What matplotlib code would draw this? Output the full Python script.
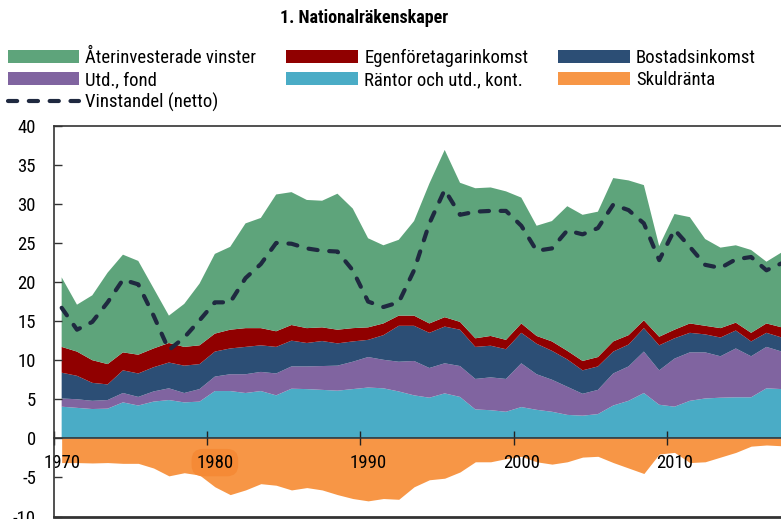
import numpy as np
import matplotlib
matplotlib.use("Agg")
import matplotlib.pyplot as plt
from matplotlib.patches import Patch
from matplotlib.lines import Line2D

plt.rcParams['font.family'] = ['Roboto Condensed', 'DejaVu Sans']
plt.rcParams['axes.unicode_minus'] = False

years = np.arange(1970, 2018)

# stacked components, bottom to top
rantor = [4.05, 3.9, 3.75, 3.8, 4.6, 4.2, 4.7, 4.9, 4.6, 4.7,
          6.05, 6.05, 5.8, 6.05, 5.5, 6.35, 6.3, 6.2, 6.1, 6.3,
          6.5, 6.4, 6.0, 5.5, 5.2, 5.75, 5.3, 3.7, 3.6, 3.4,
          4.0, 3.65, 3.4, 3.0, 2.9, 3.1, 4.2, 4.8, 5.8, 4.3,
          4.05, 4.8, 5.1, 5.2, 5.25, 5.25, 6.4, 6.3]
utd_fond = [1.05, 1.1, 1.05, 1.1, 1.2, 1.1, 1.3, 1.5, 1.2, 1.6,
            1.85, 2.15, 2.4, 2.45, 2.8, 2.85, 2.9, 3.05, 3.2, 3.5,
            3.9, 3.65, 3.8, 4.4, 3.8, 3.85, 3.95, 3.9, 4.2, 4.2,
            5.6, 4.55, 4.1, 3.6, 2.8, 3.1, 4.1, 4.4, 5.3, 4.4,
            6.15, 6.2, 5.9, 5.3, 6.25, 5.25, 5.3, 4.8]
bostad = [3.3, 3.0, 2.3, 2.0, 2.9, 3.0, 3.1, 3.3, 3.5, 3.2,
          3.2, 3.3, 3.5, 3.4, 3.4, 3.3, 3.0, 3.2, 2.85, 2.6,
          2.2, 3.15, 4.6, 4.5, 4.5, 4.7, 4.65, 4.1, 4.05, 3.8,
          3.9, 3.9, 3.7, 3.5, 3.0, 3.0, 2.8, 2.8, 3.0, 3.2,
          2.6, 2.5, 2.3, 2.4, 2.3, 1.9, 1.8, 1.8]
egenfor = [3.3, 3.1, 2.9, 2.6, 2.3, 2.4, 2.4, 2.5, 2.4, 2.4,
           2.3, 2.4, 2.4, 2.2, 2.0, 2.0, 1.9, 1.75, 1.75, 1.7,
           1.6, 1.5, 1.3, 1.3, 1.2, 1.2, 1.0, 1.1, 1.25, 1.2,
           1.2, 1.0, 1.2, 1.1, 1.2, 1.2, 1.3, 1.2, 1.0, 1.1,
           1.1, 1.2, 1.1, 1.2, 1.0, 1.1, 1.2, 1.3]
aterinv = [8.9, 6.0, 8.3, 11.7, 12.5, 12.0, 7.7, 3.5, 5.5, 7.9,
           10.2, 10.6, 13.4, 14.1, 17.5, 17.0, 16.4, 16.2, 17.4, 15.3,
           11.4, 10.0, 9.7, 12.1, 17.9, 21.4, 17.8, 19.2, 19.0, 19.0,
           16.1, 14.1, 15.4, 18.5, 18.7, 18.6, 20.9, 19.8, 17.3, 11.6,
           14.8, 13.6, 11.1, 10.3, 9.9, 10.6, 7.9, 9.6]
skuldranta = [-3.1, -3.1, -3.15, -3.1, -3.2, -3.2, -3.8, -4.8, -4.4, -4.7,
              -6.2, -7.2, -6.6, -5.8, -6.0, -6.6, -6.3, -6.6, -7.2, -7.7,
              -8.0, -7.7, -7.8, -6.2, -5.3, -5.1, -4.3, -3.0, -3.0, -2.6,
              -2.3, -3.0, -3.3, -3.0, -2.4, -2.3, -3.1, -3.8, -4.5, -2.0,
              -1.8, -3.1, -3.0, -2.4, -1.8, -1.0, -0.85, -0.95]
vinstandel = [16.7, 13.9, 14.9, 17.4, 20.3, 19.7, 15.7, 11.3, 12.9, 15.1,
              17.4, 17.4, 20.5, 22.3, 25.0, 24.9, 24.3, 24.0, 23.9, 21.5,
              17.5, 16.8, 17.4, 21.5, 27.5, 31.8, 28.6, 29.0, 29.1, 29.1,
              27.2, 24.0, 24.3, 26.6, 26.1, 26.9, 29.9, 29.2, 27.5, 22.8,
              26.7, 24.5, 22.2, 21.8, 22.9, 23.2, 21.5, 22.4]

labels = ['Återinvesterade vinster', 'Egenföretagarinkomst', 'Bostadsinkomst',
          'Utd., fond', 'Räntor och utd., kont.', 'Skuldränta', 'Vinstandel (netto)']
c_green = '#5ea47b'
c_red = '#900000'
c_blue = '#2c4e75'
c_purple = '#8064a0'
c_cyan = '#4aacc6'
c_orange = '#f79646'
c_line = '#1f2940'

x = years + 0.5  # values are centred in each year

fig = plt.figure(figsize=(7.81, 5.19), dpi=100)
ax = fig.add_axes([54 / 781, 2.5 / 519, 1 - 54 / 781, 390.8 / 519])

ax.stackplot(x, rantor, utd_fond, bostad, egenfor, aterinv,
             colors=[c_cyan, c_purple, c_blue, c_red, c_green], lw=0)
ax.fill_between(x, skuldranta, 0, color=c_orange, lw=0)
ax.plot(x, vinstandel, color=c_line, lw=3, linestyle=(0, (2.2, 2.8)),
        dash_capstyle='round')

ax.set_xlim(1970, 2017.45)
ax.set_ylim(-10, 40)
ax.set_yticks(range(-10, 45, 5))

ax.spines['right'].set_visible(False)
ax.spines['bottom'].set_position(('data', 0))
for s in ['left', 'top', 'bottom']:
    ax.spines[s].set_color('#333333')
    ax.spines[s].set_linewidth(1.2)
ax.axhline(-10, color='#333333', lw=2, clip_on=False)

ax.set_xticks(range(1970, 2020, 10), labels=[''] * 5)
ax.set_xticks([1970.5, 1980.5, 1990.5, 2000.5, 2010.5],
              labels=['1970', '1980', '1990', '2000', '2010'], minor=True)
ax.tick_params(axis='x', which='major', direction='inout', length=10, width=1, color='#222222')
ax.tick_params(axis='x', which='minor', length=0, pad=11, labelsize=13.5)
ax.tick_params(axis='y', direction='in', length=6, width=1, pad=13, labelsize=13.5, color='#333333')

lab80 = ax.get_xticklabels(minor=True)[1]
lab80.set_bbox(dict(boxstyle='round,pad=0.25,rounding_size=0.6', fc='#f58a36', ec='none'))

handles = [Patch(facecolor=c_green), Patch(facecolor=c_purple),
           Line2D([], [], color=c_line, lw=3, linestyle=(0, (2.2, 2.8)), dash_capstyle='round'),
           Patch(facecolor=c_red), Patch(facecolor=c_cyan),
           Patch(facecolor=c_blue), Patch(facecolor=c_orange)]
order = [labels[0], labels[3], labels[6], labels[1], labels[4], labels[2], labels[5]]
fig.legend(handles, order, ncol=3, loc='upper left', bbox_to_anchor=(0.0, 0.92),
           frameon=False, fontsize=13.5, handlelength=3.8, handleheight=0.7,
           handletextpad=0.35, columnspacing=1.6, labelspacing=0.2, borderaxespad=0)

fig.text(364 / 781, 1 - 18 / 519, '1. Nationalräkenskaper', ha='center', va='center',
         fontsize=13, fontweight='bold')

fig.savefig('out.png', dpi=100)
